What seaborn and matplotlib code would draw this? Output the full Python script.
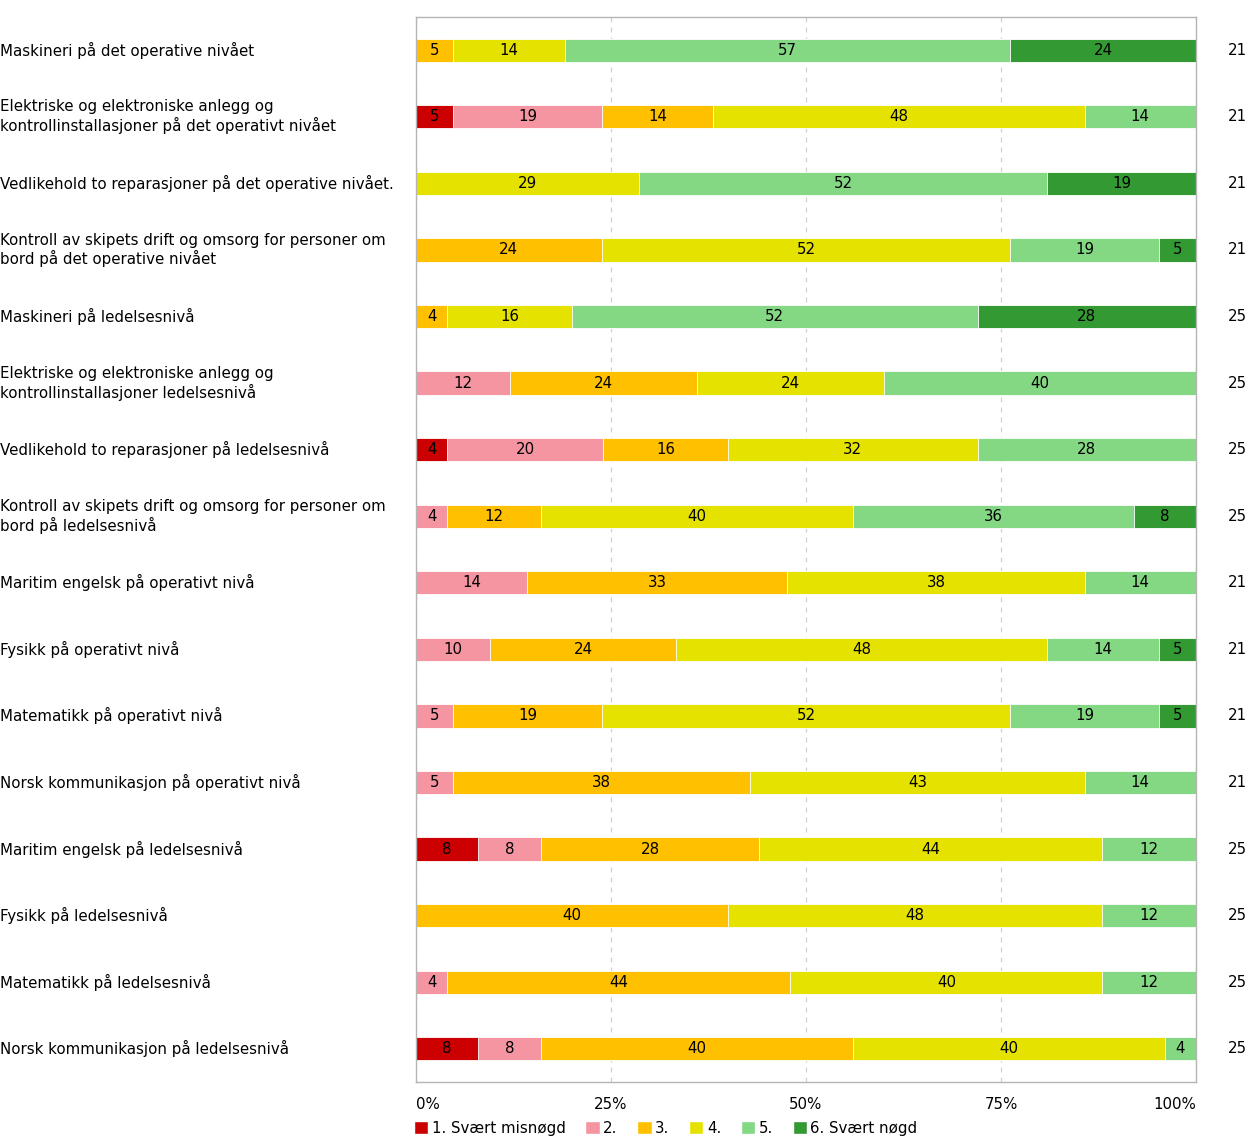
import matplotlib
matplotlib.use('Agg')
import matplotlib.pyplot as plt
import matplotlib.transforms as mtransforms
from matplotlib.patches import Patch
import numpy as np
import pandas as pd
import seaborn as sns

# %% data (antall svar per nivå, n per tema)
temaer = [
    'Maskineri på det operative nivået',
    'Elektriske og elektroniske anlegg og\nkontrollinstallasjoner på det operativt nivået',
    'Vedlikehold to reparasjoner på det operative nivået.',
    'Kontroll av skipets drift og omsorg for personer om\nbord på det operative nivået',
    'Maskineri på ledelsesnivå',
    'Elektriske og elektroniske anlegg og\nkontrollinstallasjoner ledelsesnivå',
    'Vedlikehold to reparasjoner på ledelsesnivå',
    'Kontroll av skipets drift og omsorg for personer om\nbord på ledelsesnivå',
    'Maritim engelsk på operativt nivå',
    'Fysikk på operativt nivå',
    'Matematikk på operativt nivå',
    'Norsk kommunikasjon på operativt nivå',
    'Maritim engelsk på ledelsesnivå',
    'Fysikk på ledelsesnivå',
    'Matematikk på ledelsesnivå',
    'Norsk kommunikasjon på ledelsesnivå',
]
n_svar = [21, 21, 21, 21, 25, 25, 25, 25, 21, 21, 21, 21, 25, 25, 25, 25]
niva1 = [0, 1, 0, 0, 0, 0, 1, 0, 0, 0, 0, 0, 2, 0, 0, 2]
niva2 = [0, 4, 0, 0, 0, 3, 5, 1, 3, 2, 1, 1, 2, 0, 1, 2]
niva3 = [1, 3, 0, 5, 1, 6, 4, 3, 7, 5, 4, 8, 7, 10, 11, 10]
niva4 = [3, 10, 6, 11, 4, 6, 8, 10, 8, 10, 11, 9, 11, 12, 10, 10]
niva5 = [12, 3, 11, 4, 13, 10, 7, 9, 3, 3, 4, 3, 3, 3, 3, 1]
niva6 = [5, 0, 4, 1, 7, 0, 0, 2, 0, 1, 1, 0, 0, 0, 0, 0]

nivaer = ['1. Svært misnøgd', '2.', '3.', '4.', '5.', '6. Svært nøgd']
farger = ['#cc0000', '#f595a1', '#ffc000', '#e6e200', '#84d884', '#339933']

# %% prosent og kumulative summer
df = pd.DataFrame({'tema': temaer, 'n': n_svar})
for i, v in enumerate([niva1, niva2, niva3, niva4, niva5, niva6]):
    df[f'p{i}'] = np.array(v) / df['n'] * 100
pcols = [f'p{i}' for i in range(6)]
cum = df[pcols].cumsum(axis=1)
for i in range(6):
    df[f'c{i}'] = cum[pcols[i]]

# %% figur
fs = 10.8
plt.rcParams['font.family'] = ['DejaVu Sans']
plt.rcParams['font.size'] = fs
fig = plt.figure(figsize=(12.59, 11.44), dpi=100)
ax = fig.add_axes([416 / 1259, 1 - 1082 / 1144, 780 / 1259, 1065 / 1144])

# stablede søyler: tegn kumulativ sum bakfra
for i in range(5, -1, -1):
    sns.barplot(data=df, y='tema', x=f'c{i}', color=farger[i], orient='h', saturation=1,
                width=0.35, edgecolor='white', linewidth=0.6, ax=ax, zorder=2)

ax.set_xlim(0, 100)
ax.set_ylim(len(temaer) - 0.5, -0.5)
ax.set_xlabel('')
ax.set_ylabel('')

# verdier i søylene
for r in range(len(df)):
    left = 0
    for i in range(6):
        w = df.loc[r, pcols[i]]
        if w > 0:
            ax.text(left + w / 2, r, f'{w:.0f}', ha='center', va='center',
                    fontsize=fs, color='black', zorder=3)
        left += w

# n til høyre, temaer til venstre
tr_right = mtransforms.blended_transform_factory(ax.transAxes, ax.transData)
tr_left = mtransforms.blended_transform_factory(fig.transFigure, ax.transData)
for r in range(len(df)):
    ax.text(1.053, r, str(df.loc[r, 'n']), transform=tr_right, ha='center', va='center',
            fontsize=fs)
    ax.text(0.0, r, df.loc[r, 'tema'], transform=tr_left, ha='left', va='center',
            fontsize=fs, linespacing=1.2)
ax.set_yticks([])

# x-akse
ax.set_xticks([0, 25, 50, 75, 100])
ax.set_xticklabels(['0%', '25%', '50%', '75%', '100%'])
lbls = ax.get_xticklabels()
lbls[0].set_horizontalalignment('left')
lbls[-1].set_horizontalalignment('right')
ax.tick_params(axis='x', length=0, pad=11, labelsize=fs)
ax.grid(axis='x', linestyle=(0, (4, 4)), color='#d0d0d0', linewidth=0.9, zorder=0)
ax.set_axisbelow(True)
for s in ax.spines.values():
    s.set_color('#b5b5b5')
    s.set_linewidth(1)

# legend
handles = [Patch(facecolor=c, edgecolor='white') for c in farger]
fig.legend(handles, nivaer, loc='upper left', bbox_to_anchor=(414 / 1259, 1 - 1121 / 1144),
           ncol=6, frameon=False, handlelength=0.95, handleheight=0.95, handletextpad=0.25,
           columnspacing=1.3, fontsize=fs, borderaxespad=0, borderpad=0)

fig.savefig('out.png', dpi=100)
